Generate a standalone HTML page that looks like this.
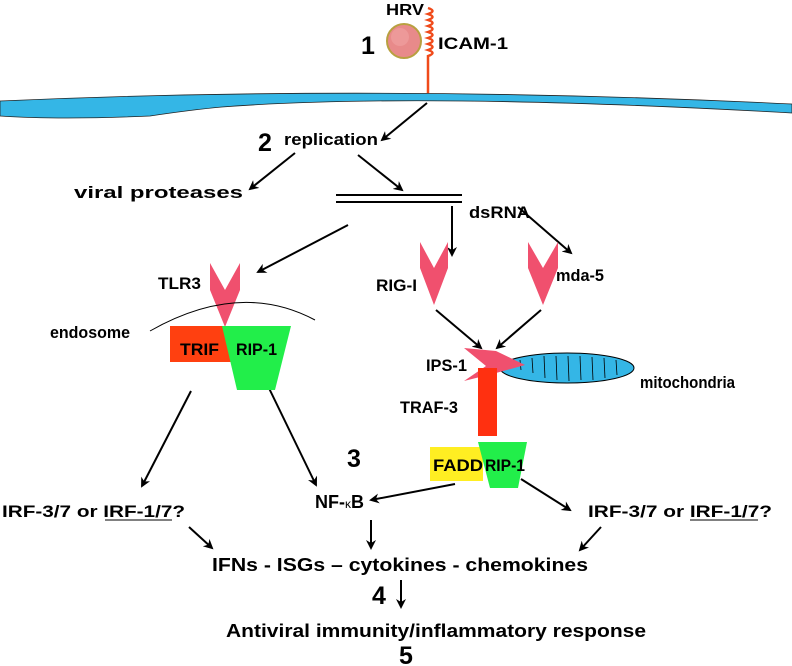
<!DOCTYPE html>
<html><head><meta charset="utf-8"><style>
html,body{margin:0;padding:0;background:#fff;width:792px;height:666px;overflow:hidden}
svg{display:block}
text{font-family:"Liberation Sans",Arial,sans-serif;font-weight:bold;fill:#000}
</style></head><body>
<svg width="792" height="666" viewBox="0 0 792 666" xmlns="http://www.w3.org/2000/svg">
<defs>
<marker id="a" markerWidth="10" markerHeight="10" refX="8" refY="5" orient="auto" markerUnits="userSpaceOnUse">
<path d="M0,0 L10,5 L0,10 L3,5 Z" fill="#000"/></marker>
</defs>
<path d="M0,101 Q380,84 792,104 L792,113 Q420,92 222,107 Q190,110 150,116 Q60,120 0,116 Z" fill="#34b6e6" stroke="#222" stroke-width="0.8"/>
<path d="M428,8 q9,3 0,6 q9,3 0,6 q9,3 0,6 q9,3 0,6 q9,3 0,6 q9,3 0,6 q9,3 0,6 q9,3 0,6 L428,93" fill="none" stroke="#f04a1a" stroke-width="2.5"/>
<circle cx="404" cy="41" r="17" fill="#e88a8a" stroke="#b8a040" stroke-width="2"/>
<circle cx="400" cy="37" r="9" fill="#f0a0a0" opacity="0.7"/>
<text x="386" y="15" font-size="16" textLength="38" lengthAdjust="spacingAndGlyphs">HRV</text>
<text x="361" y="54" font-size="25">1</text>
<text x="438" y="49" font-size="17" textLength="70" lengthAdjust="spacingAndGlyphs">ICAM-1</text>
<g stroke="#000" stroke-width="2" marker-end="url(#a)" fill="none">
<line x1="427" y1="103" x2="382" y2="140"/>
<line x1="295" y1="153" x2="250" y2="189"/>
<line x1="358" y1="155" x2="402" y2="190"/>
<line x1="348" y1="225" x2="258" y2="272"/>
<line x1="452" y1="206" x2="452" y2="255"/>
<line x1="518" y1="207" x2="571" y2="253"/>
<line x1="436" y1="310" x2="481" y2="348"/>
<line x1="541" y1="310" x2="497" y2="348"/>
<line x1="191" y1="391" x2="142" y2="486"/>
<line x1="266" y1="382" x2="316" y2="485"/>
<line x1="455" y1="484" x2="371" y2="500"/>
<line x1="521" y1="479" x2="570" y2="510"/>
<line x1="189" y1="527" x2="212" y2="548"/>
<line x1="371" y1="520" x2="371" y2="548"/>
<line x1="601" y1="527" x2="580" y2="550"/>
<line x1="401" y1="580" x2="401" y2="607"/>
</g>
<text x="258" y="151" font-size="25">2</text>
<text x="284" y="145" font-size="17" textLength="94" lengthAdjust="spacingAndGlyphs">replication</text>
<text x="74" y="198" font-size="17" textLength="169" lengthAdjust="spacingAndGlyphs">viral proteases</text>
<line x1="336" y1="195" x2="462" y2="195" stroke="#000" stroke-width="2"/>
<line x1="336" y1="202" x2="462" y2="202" stroke="#000" stroke-width="2"/>
<text x="469" y="218" font-size="17" textLength="61" lengthAdjust="spacingAndGlyphs">dsRNA</text>
<g fill="#f0506e">
<path d="M210,263 L225,290 L240,263 L240,290 L225,327 L210,290 Z"/>
<path d="M420,242 L434,268 L448,242 L448,268 L434,305 L420,268 Z"/>
<path d="M528,242 L543,268 L558,242 L558,268 L543,305 L528,268 Z"/>
</g>
<text x="158" y="289" font-size="17" textLength="43" lengthAdjust="spacingAndGlyphs">TLR3</text>
<text x="376" y="291" font-size="17" textLength="41" lengthAdjust="spacingAndGlyphs">RIG-I</text>
<text x="556" y="281" font-size="17" textLength="48" lengthAdjust="spacingAndGlyphs">mda-5</text>
<path d="M150,331 Q240,280 315,320" fill="none" stroke="#000" stroke-width="1"/>
<text x="50" y="338" font-size="17" textLength="80" lengthAdjust="spacingAndGlyphs">endosome</text>
<rect x="170" y="326" width="62" height="36" fill="#ff4010"/>
<path d="M222,326 L291,326 L275,390 L237,390 Z" fill="#22ee4a"/>
<text x="180" y="355" font-size="17" textLength="39" lengthAdjust="spacingAndGlyphs">TRIF</text>
<text x="236" y="355" font-size="17" textLength="41" lengthAdjust="spacingAndGlyphs">RIP-1</text>
<ellipse cx="567" cy="368" rx="67" ry="15" fill="#34b6e6" stroke="#000" stroke-width="1"/>
<g stroke="#000" stroke-width="0.8">
<line x1="520" y1="360" x2="521" y2="370"/><line x1="532" y1="358" x2="533" y2="373"/>
<line x1="544" y1="356" x2="545" y2="378"/><line x1="556" y1="356" x2="557" y2="380"/>
<line x1="568" y1="356" x2="569" y2="381"/><line x1="580" y1="356" x2="581" y2="380"/>
<line x1="592" y1="357" x2="593" y2="380"/><line x1="604" y1="358" x2="605" y2="378"/>
<line x1="616" y1="360" x2="617" y2="375"/>
</g>
<path d="M464,348 L496,351 L525,365 L496,373 L464,381 L486,366 Z" fill="#f0506e"/>
<text x="426" y="371" font-size="17" textLength="41" lengthAdjust="spacingAndGlyphs">IPS-1</text>
<text x="640" y="388" font-size="17" textLength="95" lengthAdjust="spacingAndGlyphs">mitochondria</text>
<rect x="478" y="368" width="19" height="68" fill="#ff3010"/>
<text x="400" y="413" font-size="17" textLength="58" lengthAdjust="spacingAndGlyphs">TRAF-3</text>
<rect x="430" y="447" width="53" height="34" fill="#ffee22"/>
<path d="M478,442 L527,442 L518,488 L490,488 Z" fill="#22ee4a"/>
<text x="433" y="471" font-size="17" textLength="50" lengthAdjust="spacingAndGlyphs">FADD</text>
<text x="485" y="471" font-size="17" textLength="40" lengthAdjust="spacingAndGlyphs">RIP-1</text>
<text x="347" y="467" font-size="25">3</text>
<text x="315" y="508" font-size="18">NF-<tspan font-size="12" font-weight="normal">κ</tspan>B</text>
<text x="2" y="517" font-size="17" textLength="183" lengthAdjust="spacingAndGlyphs">IRF-3/7 or IRF-1/7?</text>
<line x1="105" y1="520" x2="172" y2="520" stroke="#000" stroke-width="1"/>
<text x="588" y="517" font-size="17" textLength="184" lengthAdjust="spacingAndGlyphs">IRF-3/7 or IRF-1/7?</text>
<line x1="690" y1="520" x2="758" y2="520" stroke="#000" stroke-width="1"/>
<text x="212" y="571" font-size="18" textLength="376" lengthAdjust="spacingAndGlyphs">IFNs - ISGs – cytokines - chemokines</text>
<text x="372" y="604" font-size="25">4</text>
<text x="226" y="637" font-size="18" textLength="420" lengthAdjust="spacingAndGlyphs">Antiviral immunity/inflammatory response</text>
<text x="399" y="664" font-size="25">5</text>
</svg>
</body></html>
